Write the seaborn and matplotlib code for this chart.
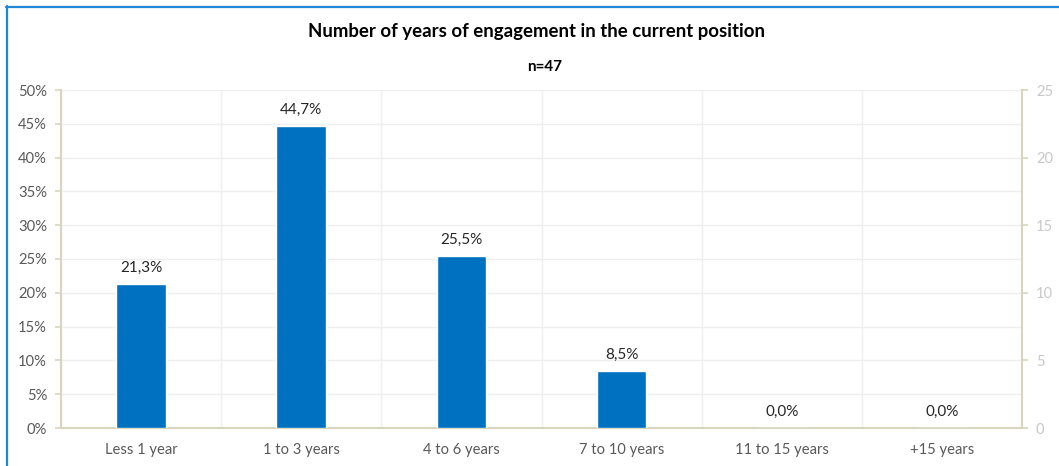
import matplotlib
matplotlib.use("Agg")
import matplotlib.pyplot as plt
import matplotlib.lines as mlines
from matplotlib.ticker import FixedLocator, PercentFormatter
import seaborn as sns
import pandas as pd

categories = ["Less 1 year", "1 to 3 years", "4 to 6 years", "7 to 10 years", "11 to 15 years", "+15 years"]
percents = [21.3, 44.7, 25.5, 8.5, 0.0, 0.0]
left_ticks = [0, 5, 10, 15, 20, 25, 30, 35, 40, 45, 50]
right_ticks = [0, 5, 10, 15, 20, 25]
title = "Number of years of engagement in the current position"
subtitle = "n=47"

sns.set_theme(style="white")
plt.rcParams["font.family"] = ["Lato", "DejaVu Sans"]

BAR = "#0070C0"
SPINE = "#D9D4BC"
GRID = "#EFEFEF"
TICKTXT = "#595959"
RTICKTXT = "#C8C8C8"

df = pd.DataFrame({"category": categories, "percent": percents})

fig = plt.figure(figsize=(10.59, 4.66), dpi=100)
W, H = 1059, 466
ax = fig.add_axes([61 / W, 1 - 428 / H, (1022 - 61) / W, (428 - 90) / H])

sns.barplot(data=df, x="category", y="percent", color=BAR, width=0.31,
            saturation=1, ax=ax, zorder=3)

ax.set_xlim(-0.5, len(categories) - 0.5)
ax.set_ylim(0, 50)
ax.yaxis.set_major_locator(FixedLocator(left_ticks))
ax.yaxis.set_major_formatter(PercentFormatter(decimals=0))
ax.set_xlabel("")
ax.set_ylabel("")

# category boundaries carry the vertical gridlines and x tick marks
bounds = [i - 0.5 for i in range(len(categories) + 1)]
ax.xaxis.set_minor_locator(FixedLocator(bounds))
ax.tick_params(axis="x", which="major", length=0, labelsize=10.6, labelcolor=TICKTXT, pad=11)
ax.tick_params(axis="x", which="minor", length=5, width=1.2, color=SPINE, direction="out")
ax.tick_params(axis="y", which="major", length=4, width=1.2, color=SPINE, labelsize=10.6,
               labelcolor=TICKTXT, pad=6, left=True, direction="out")
ax.grid(True, axis="y", which="major", color=GRID, lw=1, zorder=0)
ax.grid(True, axis="x", which="minor", color=GRID, lw=1, zorder=0)
ax.grid(False, axis="x", which="major")

for side in ["top", "right"]:
    ax.spines[side].set_visible(False)
for side in ["left", "bottom"]:
    ax.spines[side].set_color(SPINE)
    ax.spines[side].set_linewidth(1.5)

for i, v in enumerate(percents):
    ax.text(i, v + 1.3, f"{v:.1f}%".replace(".", ","), ha="center", va="bottom",
            fontsize=11, color="#262626", zorder=4)

# secondary axis on the right
ax2 = ax.twinx()
ax2.set_ylim(0, 25)
ax2.yaxis.set_major_locator(FixedLocator(right_ticks))
ax2.tick_params(axis="y", length=4, width=1.2, color=SPINE, labelsize=10.6,
                labelcolor=RTICKTXT, pad=6, direction="out")
ax2.grid(False)
for side in ["top", "left", "bottom"]:
    ax2.spines[side].set_visible(False)
ax2.spines["right"].set_color(SPINE)
ax2.spines["right"].set_linewidth(1.5)

fig.text(536 / W, 1 - 32 / H, title, ha="center", va="center",
         fontsize=13.4, fontweight="bold", color="#000000")
fig.text(545 / W, 1 - 67 / H, subtitle, ha="center", va="center",
         fontsize=11, fontweight="bold", color="#000000")

# chart frame edges
frame = "#1E88D8"
fig.add_artist(mlines.Line2D([6.5 / W, 6.5 / W], [0, 1 - 6 / H], transform=fig.transFigure,
                             color=frame, lw=1.6))
fig.add_artist(mlines.Line2D([6 / W, 1], [1 - 6.5 / H, 1 - 6.5 / H], transform=fig.transFigure,
                             color=frame, lw=1.6))

fig.savefig("out.png", dpi=100, facecolor="white")
